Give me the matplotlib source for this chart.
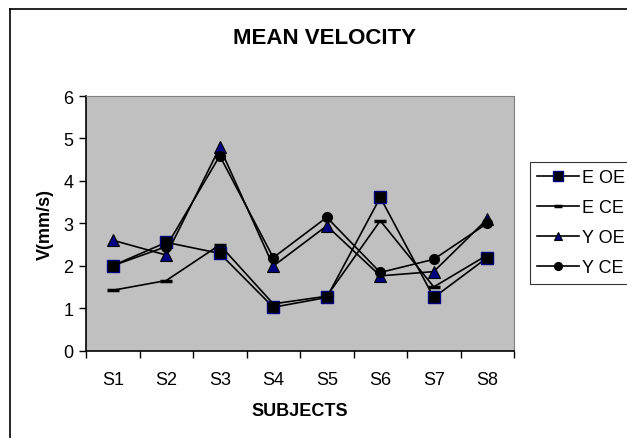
import matplotlib.pyplot as plt
from matplotlib.lines import Line2D

plt.rcParams['font.family'] = ['Liberation Sans', 'DejaVu Sans']

subjects = ['S1', 'S2', 'S3', 'S4', 'S5', 'S6', 'S7', 'S8']
e_oe = [2.0, 2.55, 2.29, 1.02, 1.25, 3.61, 1.25, 2.19]
e_ce = [1.42, 1.65, 2.49, 1.1, 1.28, 3.06, 1.5, 2.25]
y_oe = [2.6, 2.25, 4.79, 1.99, 2.94, 1.76, 1.86, 3.1]
y_ce = [2.0, 2.45, 4.59, 2.19, 3.14, 1.84, 2.15, 3.0]

fig = plt.figure(figsize=(6.27, 4.39), dpi=100)
ax = fig.add_axes([0.1372, 0.1993, 0.6826, 0.5797])
ax.set_facecolor('#c0c0c0')

x = range(len(subjects))
ax.plot(x, e_oe, '-', color='black', lw=1.2, marker='s', ms=9,
        mfc='black', mec='#000080', mew=1.0, label='E OE')
ax.plot(x, e_ce, '-', color='black', lw=1.2, marker='_', ms=8,
        mew=2.5, label='E CE')
ax.plot(x, y_oe, '-', color='black', lw=1.2, marker='^', ms=8,
        mfc='#000080', mec='black', mew=0.8, label='Y OE')
ax.plot(x, y_ce, '-', color='black', lw=1.2, marker='o', ms=7,
        mfc='black', mec='black', label='Y CE')

ax.set_xlim(-0.5, len(subjects) - 0.5)
ax.set_ylim(0, 6)
ax.set_yticks(range(0, 7))
ax.set_xticks(list(x))
ax.set_xticklabels(subjects)
ax.set_xticks([i - 0.5 for i in range(len(subjects) + 1)], minor=True)
ax.tick_params(axis='x', which='major', length=0, pad=15, labelsize=13)
ax.tick_params(axis='x', which='minor', length=5, direction='out', width=1)
ax.tick_params(axis='y', length=5, direction='out', width=1, labelsize=13, pad=4)

for side in ['top', 'right']:
    ax.spines[side].set_color('#808080')
for side in ['left', 'bottom']:
    ax.spines[side].set_color('black')
    ax.spines[side].set_linewidth(1.2)

ax.set_xlabel('SUBJECTS', fontsize=13, fontweight='bold', labelpad=10)
ax.set_ylabel('V(mm/s)', fontsize=13, fontweight='bold', labelpad=7)
fig.text(0.518, 0.912, 'MEAN VELOCITY', ha='center', va='center',
         fontsize=16, fontweight='bold')

leg = ax.legend(loc='upper left', bbox_to_anchor=(1.037, 0.74), frameon=True,
                fancybox=False, edgecolor='black', fontsize=13,
                handlelength=2.3, handletextpad=0.2, labelspacing=0.72,
                borderpad=0.4, borderaxespad=0, markerscale=0.8)
leg.get_frame().set_linewidth(0.8)

# outer chart frame (left and top edges)
fig.add_artist(Line2D([0.016, 0.016], [0.0, 0.977], color='black', lw=1.2,
                      transform=fig.transFigure))
fig.add_artist(Line2D([0.016, 1.0], [0.977, 0.977], color='black', lw=1.2,
                      transform=fig.transFigure))

fig.savefig('out.png', dpi=100)
